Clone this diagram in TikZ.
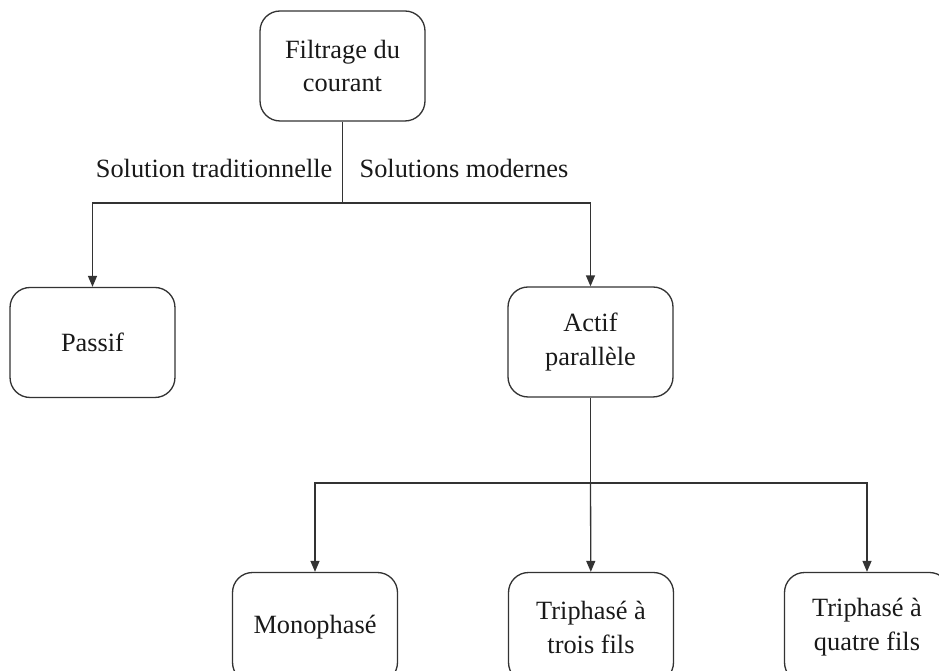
\documentclass[tikz,border=0pt]{standalone}
\usepackage{fontspec}
\setmainfont{Liberation Serif}
\usetikzlibrary{arrows.meta}

\begin{document}
\begin{tikzpicture}[x=0.02cm, y=-0.02cm,
    line width=0.75pt, draw={black!80},
    every node/.style={font=\fontsize{15}{19.3}\selectfont, text=black!90},
    box/.style={draw, rounded corners=0.4cm, minimum width=3.3cm, minimum height=2.2cm,
                align=center, inner sep=0pt},
    arr/.style={-{Triangle[length=2.2mm, width=1.8mm]}},
    lbl/.style={inner sep=0pt}]

\useasboundingbox (0,0) rectangle (939,671);
\clip (0,0) rectangle (939,671);

% first level
\node[box] (filtrage) at (342.5,66) {Filtrage du\\courant};
\node[box] (passif)   at (92.5,342.5) {Passif};
\node[box] (actif)    at (590.5,342) {Actif\\parallèle};

\coordinate (split1) at (342.5,203);
\draw (filtrage) -- (split1);
\draw[arr] (split1) -| (passif);
\draw[arr] (split1) -| (actif);

\node[lbl, anchor=east] (trad) at (333,168) {Solution traditionnelle};
\node[lbl, anchor=west] (mod)  at (359,168) {Solutions modernes};

% second level
\node[box] (mono) at (315,627.5) {Monophasé};
\node[box] (tri3) at (591,627.5) {Triphasé à\\trois fils};
\node[box] (tri4) at (867,627.5) {Triphasé à\\quatre fils};

\coordinate (split2) at (590.5,483);
\draw (actif) -- (split2);
\draw[arr] (split2) -| (mono);
\draw[arr] (split2) -- (tri3);
\draw[arr] (split2) -| (tri4);

\end{tikzpicture}
\end{document}
